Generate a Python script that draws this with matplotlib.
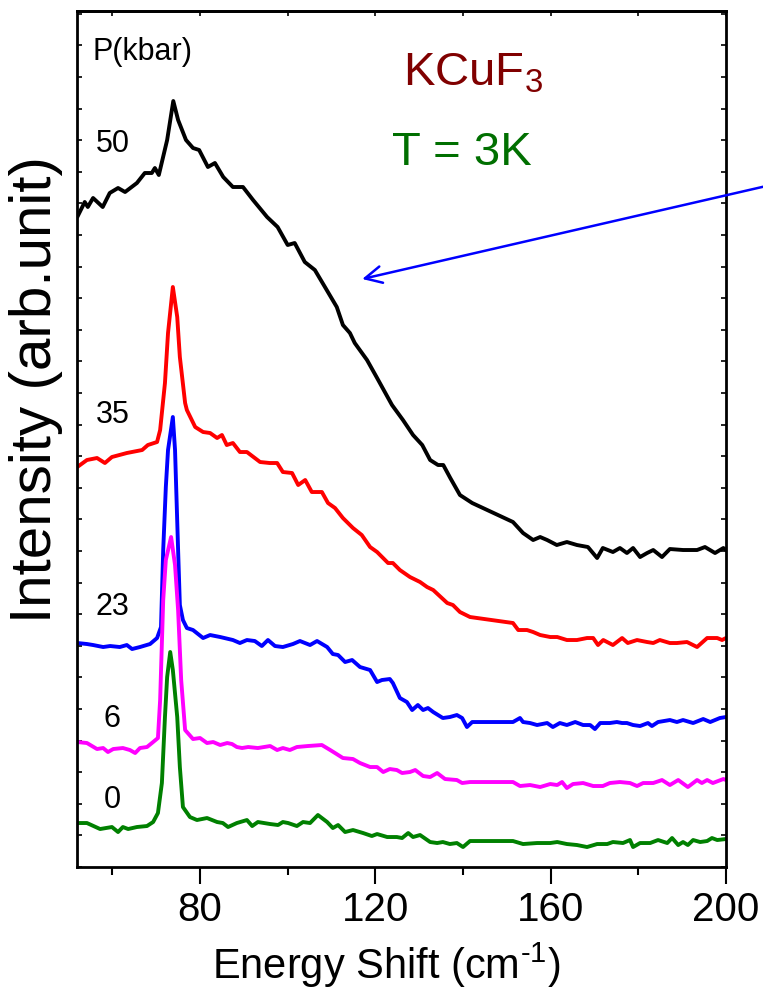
import matplotlib
matplotlib.use("Agg")
import matplotlib.pyplot as plt
from matplotlib.ticker import MultipleLocator

plt.rcParams['font.family'] = ['Liberation Sans', 'DejaVu Sans']
plt.rcParams['mathtext.fontset'] = 'custom'
plt.rcParams['mathtext.rm'] = 'Liberation Sans'
plt.rcParams['mathtext.it'] = 'Liberation Sans:italic'
plt.rcParams['mathtext.default'] = 'regular'

# Raman spectra of KCuF3 at T = 3 K, offset vertically by pressure
# (energy shift in cm^-1, intensity in arbitrary units)
spec_50 = [(52.0, 650), (53.7, 665), (54.4, 660), (55.6, 669), (57.8, 660), (59.4, 674),
           (61.3, 679), (62.9, 675), (65.6, 684), (67.4, 694), (69.0, 694), (69.7, 699),
           (70.6, 692), (72.5, 727), (73.9, 766), (75.0, 747), (76.8, 727), (78.4, 719),
           (79.8, 717), (81.8, 700), (83.4, 704), (85.3, 690), (87.5, 680), (89.8, 680),
           (92.1, 667), (95.3, 650), (97.7, 640), (100.0, 622), (101.6, 624), (103.9, 605),
           (106.2, 597), (108.5, 580), (111.2, 560), (112.6, 542), (114.2, 534), (115.3, 524),
           (118.1, 507), (120.4, 489), (123.8, 462), (126.3, 447), (128.6, 432), (130.7, 422),
           (132.5, 407), (134.3, 402), (135.5, 402), (137.1, 389), (139.3, 372), (142.1, 364),
           (151.4, 345), (153.7, 334), (156.0, 327), (157.6, 330), (159.2, 327), (161.4, 322),
           (163.7, 325), (166.0, 322), (168.5, 320), (170.6, 309), (171.9, 319), (174.2, 315),
           (175.8, 319), (177.4, 314), (178.8, 319), (180.4, 310), (182.0, 314), (183.4, 317),
           (185.4, 310), (187.2, 318), (190.2, 317), (193.4, 317), (195.2, 320), (197.5, 314),
           (199.4, 319), (200.0, 317)]

spec_35 = [(52.0, 400), (54.2, 407), (56.5, 409), (58.3, 404), (59.9, 410), (63.3, 414),
           (66.8, 417), (68.1, 422), (70.2, 425), (70.9, 437), (72.0, 484), (72.7, 534),
           (73.8, 580), (74.8, 550), (75.4, 510), (76.6, 464), (77.0, 457), (78.9, 440),
           (80.7, 435), (82.3, 434), (83.9, 429), (85.0, 432), (86.1, 422), (87.5, 424),
           (89.1, 415), (90.7, 415), (93.7, 405), (95.9, 404), (97.6, 404), (98.9, 395),
           (101.0, 394), (102.4, 382), (104.0, 387), (105.5, 375), (107.8, 375), (109.2, 364),
           (110.8, 359), (112.6, 349), (114.9, 339), (116.9, 332), (118.8, 320), (120.4, 315),
           (122.9, 304), (124.0, 304), (125.6, 297), (127.9, 290), (130.2, 285), (131.8, 280),
           (133.2, 277), (136.4, 264), (137.7, 262), (139.3, 255), (141.6, 250), (151.4, 244),
           (152.6, 237), (154.6, 237), (156.0, 235), (157.6, 232), (159.9, 230), (161.5, 230),
           (163.7, 227), (166.0, 227), (168.3, 229), (169.7, 229), (170.8, 222), (172.0, 227),
           (174.2, 222), (176.3, 229), (177.6, 224), (179.7, 227), (182.0, 225), (183.4, 224),
           (184.9, 227), (187.2, 224), (188.8, 224), (191.1, 225), (193.4, 220), (195.7, 229),
           (198.0, 229), (199.1, 227), (200.0, 229)]

spec_23 = [(52.0, 224), (54.2, 223), (55.6, 222), (57.9, 220), (59.5, 221), (61.7, 220),
           (63.3, 222), (64.5, 218), (66.3, 220), (68.6, 223), (70.2, 229), (71.1, 240),
           (71.6, 317), (72.2, 380), (72.7, 417), (73.8, 450), (74.3, 417), (75.0, 317),
           (75.4, 262), (76.1, 247), (77.0, 239), (78.4, 237), (80.7, 229), (82.3, 232),
           (84.6, 230), (87.5, 227), (89.1, 224), (90.7, 227), (92.5, 226), (94.1, 221),
           (95.5, 227), (97.1, 221), (98.9, 220), (101.2, 223), (102.8, 226), (105.1, 222),
           (106.7, 226), (109.0, 220), (110.3, 213), (111.5, 212), (113.1, 205), (114.7, 207),
           (116.5, 200), (118.8, 197), (120.4, 185), (121.5, 187), (123.3, 188), (124.0, 184),
           (125.6, 169), (127.2, 165), (128.4, 157), (129.7, 162), (130.9, 157), (132.0, 159),
           (133.2, 155), (134.3, 152), (135.4, 149), (137.0, 150), (138.6, 152), (139.8, 149),
           (140.9, 140), (142.1, 145), (151.4, 145), (153.0, 149), (153.7, 145), (155.3, 144),
           (156.9, 142), (159.2, 144), (160.5, 140), (162.1, 144), (163.7, 142), (165.6, 145),
           (167.4, 142), (169.0, 142), (170.1, 138), (171.3, 144), (173.5, 144), (175.1, 145),
           (176.3, 144), (177.4, 144), (178.8, 142), (180.4, 141), (182.2, 144), (183.1, 141),
           (184.5, 145), (187.2, 147), (188.8, 145), (190.2, 147), (192.5, 144), (194.8, 148),
           (196.4, 145), (198.6, 149), (200.0, 150)]

spec_6 = [(52.0, 125), (54.2, 124), (56.5, 118), (57.9, 119), (59.0, 115), (60.2, 118),
          (62.4, 119), (64.0, 117), (65.2, 114), (66.3, 119), (67.9, 120), (69.3, 125),
          (70.4, 129), (70.9, 167), (71.6, 267), (72.2, 307), (73.4, 330), (74.3, 302),
          (75.0, 257), (75.7, 187), (76.6, 137), (78.4, 128), (80.0, 129), (81.6, 124),
          (83.0, 125), (84.6, 122), (86.2, 124), (87.3, 123), (88.4, 120), (89.6, 119),
          (91.0, 120), (93.2, 119), (96.0, 121), (97.6, 117), (98.9, 119), (100.5, 117),
          (102.1, 120), (104.6, 121), (107.8, 122), (109.7, 117), (110.8, 114), (112.6, 109),
          (114.9, 108), (116.5, 104), (118.8, 100), (120.4, 100), (121.8, 95), (123.3, 98),
          (124.9, 97), (126.1, 94), (127.9, 95), (129.1, 97), (130.9, 91), (132.5, 90),
          (134.1, 94), (135.9, 88), (138.6, 87), (139.8, 84), (141.6, 85), (151.4, 85),
          (153.0, 81), (155.3, 82), (157.6, 80), (159.9, 83), (161.5, 82), (162.6, 85),
          (163.7, 79), (165.1, 83), (167.4, 84), (169.7, 81), (171.9, 81), (173.5, 84),
          (175.8, 85), (178.1, 84), (179.7, 81), (181.1, 84), (183.4, 84), (185.4, 87),
          (187.2, 82), (189.1, 87), (191.3, 80), (193.4, 87), (194.5, 84), (195.7, 87),
          (197.0, 84), (199.4, 88), (200.0, 87)]

spec_0 = [(52.0, 44), (54.2, 44), (57.2, 38), (59.9, 40), (61.3, 35), (62.4, 40),
          (63.6, 38), (65.6, 40), (67.9, 41), (69.3, 45), (70.4, 54), (71.3, 84),
          (72.0, 150), (72.5, 190), (73.2, 215), (73.8, 197), (74.8, 150), (75.4, 100),
          (76.1, 60), (77.7, 50), (79.3, 47), (81.6, 49), (83.9, 45), (85.2, 44),
          (86.4, 40), (88.4, 44), (90.7, 47), (91.9, 41), (93.2, 45), (96.0, 43),
          (97.8, 42), (98.9, 45), (100.1, 44), (102.1, 41), (103.5, 45), (105.1, 44),
          (106.9, 52), (109.0, 45), (110.3, 39), (111.5, 42), (113.1, 35), (114.9, 37),
          (117.2, 34), (119.2, 31), (120.4, 33), (122.7, 30), (124.9, 30), (126.1, 29),
          (127.5, 34), (128.6, 30), (130.2, 32), (132.5, 25), (134.1, 24), (135.4, 25),
          (137.0, 23), (138.6, 24), (140.0, 20), (141.6, 26), (151.4, 26), (153.7, 23),
          (156.9, 24), (159.9, 24), (161.5, 25), (163.7, 23), (166.0, 22), (168.3, 20),
          (170.6, 23), (172.9, 23), (174.2, 25), (176.5, 24), (178.1, 27), (178.8, 20),
          (180.4, 24), (182.7, 24), (184.5, 27), (186.6, 24), (187.7, 29), (189.1, 22),
          (190.2, 25), (191.3, 22), (192.5, 27), (194.1, 25), (195.7, 26), (196.8, 29),
          (198.0, 27), (200.0, 28)]

pressures = ["50", "35", "23", "6", "0"]
spectra = [spec_50, spec_35, spec_23, spec_6, spec_0]
colors = ["black", "#ff0000", "#0000ff", "#ff00ff", "#008000"]
# baseline height of each pressure label, same order as pressures
label_levels = [715, 444, 252, 140, 59]

fig = plt.figure(figsize=(7.63, 9.91), dpi=100)
ax = fig.add_axes([0.1013, 0.1251, 0.8502, 0.8638])

for spec, col in zip(spectra, colors):
    xs = [p[0] for p in spec]
    ys = [p[1] for p in spec]
    ax.plot(xs, ys, color=col, lw=2.8, solid_joinstyle='round', solid_capstyle='round')

for lab, lev in zip(pressures, label_levels):
    ax.text(60.0, lev, lab, ha='center', va='baseline', fontsize=22)

ax.text(66.9, 807, "P(kbar)", ha='center', va='baseline', fontsize=22)
ax.text(126.3, 782, "KCuF$_3$", ha='left', va='baseline', fontsize=34, color='#800000')
ax.text(123.8, 702, "T = 3K", ha='left', va='baseline', fontsize=34, color='#006f00')

ax.annotate('', xy=(117.0, 588), xytext=(211.2, 683),
            arrowprops=dict(arrowstyle='->,head_length=0.6,head_width=0.3',
                            color='#0000ff', lw=1.8, mutation_scale=20,
                            shrinkA=0, shrinkB=0),
            annotation_clip=False)

ax.set_xlim(52, 200)
ax.set_ylim(0, 856)

ax.xaxis.set_major_locator(MultipleLocator(40))
ax.xaxis.set_minor_locator(MultipleLocator(20))
ax.tick_params(axis='x', which='major', direction='out', length=12, width=1.5,
               labelsize=29, pad=5, top=False)
ax.tick_params(axis='x', which='minor', direction='out', length=6, width=1.5, top=False)

ax.yaxis.set_major_locator(MultipleLocator(31.6))
ax.tick_params(axis='y', which='major', direction='in', left=True, right=True,
               length=3.5, width=1.2, labelleft=False)

top = ax.secondary_xaxis('top')
top.xaxis.set_major_locator(MultipleLocator(20))
top.tick_params(axis='x', direction='in', length=3.5, width=1.2, labeltop=False)
top.spines['top'].set_linewidth(2)

for s in ax.spines.values():
    s.set_linewidth(2)

fig.text(36 / 763, 1 - 390 / 991, "Intensity (arb.unit)", rotation=90,
         ha='center', va='center', fontsize=42)
fig.text(386 / 763, 1 - 979 / 991, r"Energy Shift (cm$^{\text{-}1}$)",
         ha='center', va='baseline', fontsize=30)

fig.savefig("out.png", dpi=100)
